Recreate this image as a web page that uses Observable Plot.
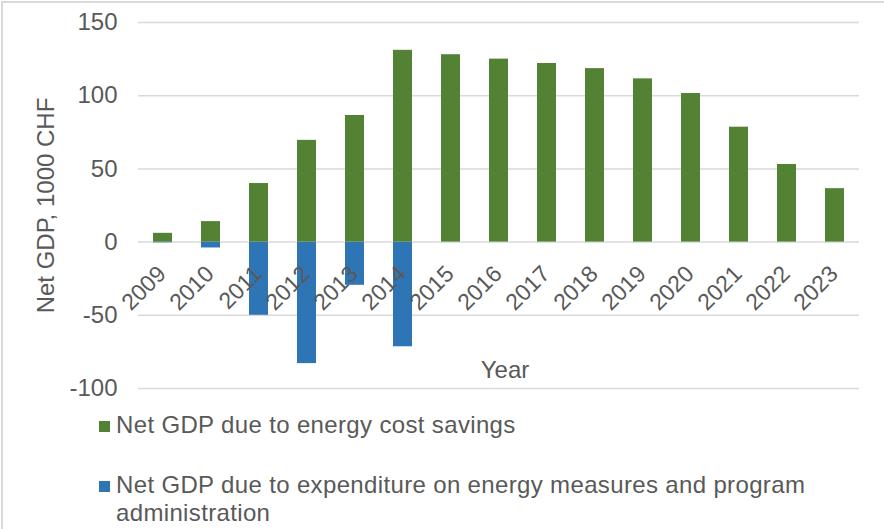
<!DOCTYPE html>
<html>
<head>
<meta charset="utf-8">
<script src="https://cdn.jsdelivr.net/npm/d3@7"></script>
<script src="https://cdn.jsdelivr.net/npm/@observablehq/plot@0.6"></script>
<style>
  body { margin: 0; background: #fff; }
  #wrap { position: relative; width: 884px; height: 529px; overflow: hidden; background: #fff;
          font-family: "Liberation Sans", Arial, sans-serif; color: #595959; }
  #border { position: absolute; left: 1px; top: 1px; width: 1000px; height: 1000px; border: 2px solid #d9d9d9; box-sizing: border-box; }
  #chart { position: absolute; left: 0; top: 0; }
  .sw { position: absolute; width: 11px; height: 11px; }
  .lt { position: absolute; left: 116px; font-size: 24px; letter-spacing: 0.35px; line-height: 28px; width: 720px; }
</style>
</head>
<body>
<div id="wrap">
  <div id="border"></div>
  <div id="chart"></div>
  <div class="sw" style="left:99px;top:421px;background:#548235"></div>
  <div class="lt" id="l1" style="top:411px"></div>
  <div class="sw" style="left:99px;top:481px;background:#2e75b6"></div>
  <div class="lt" id="l2" style="top:471px"></div>
</div>
<script>
const years = ["2009","2010","2011","2012","2013","2014","2015","2016","2017","2018","2019","2020","2021","2022","2023"];
const savings = [6, 14, 40, 69.5, 86.5, 131, 128, 125, 122, 118.5, 111.5, 101.5, 78.5, 53, 36.5];
const expenditure = [-0.5, -4, -50, -83, -29.5, -71.5, 0, 0, 0, 0, 0, 0, 0, 0, 0];
const yTicks = [-100, -50, 0, 50, 100, 150];
const seriesNames = ["Net GDP due to energy cost savings", "Net GDP due to expenditure on energy measures and program administration"];
const colors = ["#548235", "#2e75b6"];
const yLabel = "Net GDP, 1000 CHF";
const xLabel = "Year";

const table = years.map((y, i) => ({year: y, savings: savings[i], expenditure: expenditure[i]}));

document.getElementById("l1").textContent = seriesNames[0];
document.getElementById("l2").textContent = seriesNames[1];

const chart = Plot.plot({
  width: 884,
  height: 400,
  marginLeft: 138,
  marginRight: 25,
  marginTop: 22,
  marginBottom: 12,
  style: {fontFamily: "'Liberation Sans', Arial, sans-serif", fontSize: "24px", color: "#595959", background: "transparent"},
  x: {domain: years, paddingInner: 0.6, paddingOuter: 0.3, axis: null},
  y: {domain: [-100, 150], axis: null},
  marks: [
    Plot.gridY(yTicks, {stroke: "#d9d9d9", strokeOpacity: 1, strokeWidth: 1.5}),
    Plot.axisY(yTicks, {tickSize: 0, tickPadding: 21, fontSize: 24, fill: "#595959", label: null, tickFormat: d => String(d)}),
    Plot.barY(table.filter(d => d.expenditure !== 0), {x: "year", y1: () => 0, y2: "expenditure", fill: colors[1]}),
    Plot.barY(table, {x: "year", y1: () => 0, y2: "savings", fill: colors[0]}),
    Plot.text(table, {x: "year", y: () => 0, text: "year", rotate: -45, textAnchor: "end", lineAnchor: "middle", dx: -1, dy: 28, fontSize: 23, fill: "#595959"}),
    Plot.text([yLabel], {frameAnchor: "left", dx: -92, rotate: -90, textAnchor: "middle", lineAnchor: "middle", fontSize: 24, fill: "#595959"}),
    Plot.text([xLabel], {frameAnchor: "bottom", dx: 6, dy: -18, textAnchor: "middle", lineAnchor: "middle", fontSize: 24, fill: "#595959"})
  ]
});
document.getElementById("chart").appendChild(chart);
</script>
</body>
</html>
